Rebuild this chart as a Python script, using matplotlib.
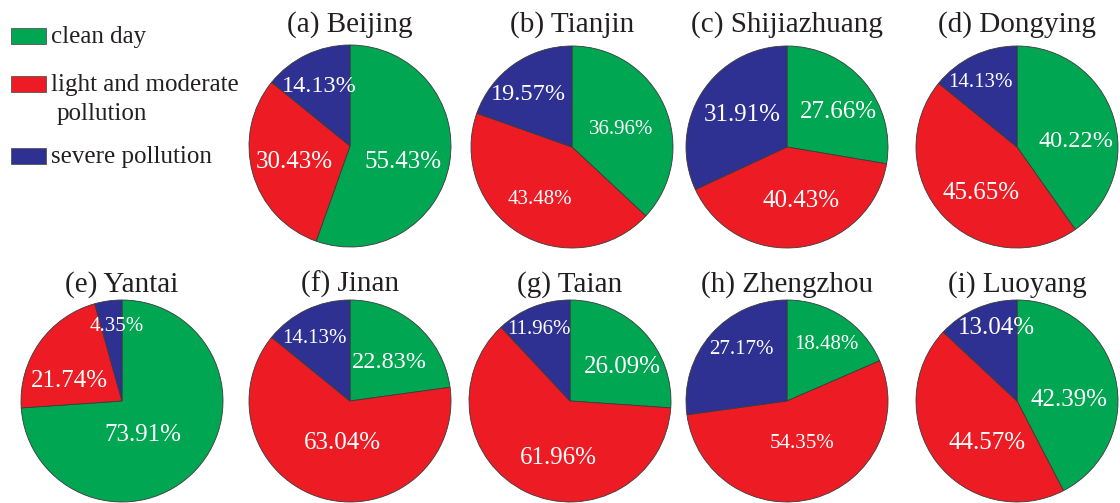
import matplotlib
matplotlib.use("Agg")
import matplotlib.pyplot as plt
from matplotlib.patches import Rectangle

plt.rcParams['font.family'] = ['Liberation Serif', 'DejaVu Serif']

# share of days (%) in each class: clean, light/moderate, severe
cities = ['(a) Beijing', '(b) Tianjin', '(c) Shijiazhuang', '(d) Dongying',
          '(e) Yantai', '(f) Jinan', '(g) Taian', '(h) Zhengzhou', '(i) Luoyang']
clean = [55.43, 36.96, 27.66, 40.22, 73.91, 22.83, 26.09, 18.48, 42.39]
moderate = [30.43, 43.48, 40.43, 45.65, 21.74, 63.04, 61.96, 54.35, 44.57]
severe = [14.13, 19.57, 31.91, 14.13, 4.35, 14.13, 11.96, 27.17, 13.04]

categories = ['clean day', 'light and moderate\npollution', 'severe pollution']
colors = ['#00A651', '#ED1C24', '#2E3192']
ink = '#231F20'

W, H = 1120, 503
R = 101
# pie centres in pixels
centres = [(350, 146), (572, 147), (787, 147), (1017, 147),
           (122, 401), (350, 401), (570, 401), (787, 401), (1017, 401)]

# label placement inside each pie (radius units) and font size, per slice
label_xy = [
    [(0.53, -0.16), (-0.55, -0.16), (-0.30, 0.59)],
    [(0.49, 0.17), (-0.32, -0.52), (-0.43, 0.52)],
    [(0.51, 0.35), (0.14, -0.53), (-0.44, 0.32)],
    [(0.58, 0.05), (-0.36, -0.46), (-0.36, 0.64)],
    [(0.21, -0.34), (-0.52, 0.20), (-0.05, 0.74)],
    [(0.39, 0.38), (-0.07, -0.42), (-0.35, 0.62)],
    [(0.52, 0.34), (-0.12, -0.56), (-0.31, 0.71)],
    [(0.39, 0.56), (0.15, -0.42), (-0.45, 0.51)],
    [(0.51, 0.01), (-0.30, -0.42), (-0.20, 0.72)],
]
label_size = [
    [18, 18, 17.5],
    [15, 15, 17.5],
    [18, 18, 18],
    [17.5, 18, 15],
    [18, 18, 15],
    [17.5, 18, 15],
    [18, 18, 15],
    [15, 15, 15],
    [18, 18, 18],
]

fig = plt.figure(figsize=(W / 100, H / 100), dpi=100)

for i, name in enumerate(cities):
    cx, cy = centres[i]
    ax = fig.add_axes([(cx - R) / W, 1 - (cy + R) / H, 2 * R / W, 2 * R / H])
    vals = [clean[i], moderate[i], severe[i]]
    ax.pie(vals, colors=colors, startangle=90, counterclock=False, radius=1,
           wedgeprops=dict(edgecolor='#3a3a3a', linewidth=0.6))
    ax.set_xlim(-1, 1)
    ax.set_ylim(-1, 1)
    ax.axis('off')
    for v, (x, y), fs in zip(vals, label_xy[i], label_size[i]):
        ax.text(x, y, f'{v:.2f}%', color='white', fontsize=fs,
                ha='center', va='center')
    base = 32 if cy < 250 else 292
    fig.text(cx / W, 1 - base / H, name, fontsize=21, color=ink,
             ha='center', va='baseline')

# legend drawn by hand at the top-left corner
patch_top = [28, 76, 148]
text_base = [43, 91, 163]
for top, base, c, lab in zip(patch_top, text_base, colors, categories):
    fig.add_artist(Rectangle((11 / W, 1 - (top + 16) / H), 35 / W, 16 / H,
                             transform=fig.transFigure, facecolor=c,
                             edgecolor='#555555', linewidth=0.6))
    lines = lab.split('\n')
    fig.text(51 / W, 1 - base / H, lines[0], fontsize=18, color=ink,
             ha='left', va='baseline')
    for k, extra in enumerate(lines[1:], start=1):
        fig.text(57 / W, 1 - (base + 29 * k) / H, extra, fontsize=18,
                 color=ink, ha='left', va='baseline')

fig.savefig('out.png', dpi=100)
